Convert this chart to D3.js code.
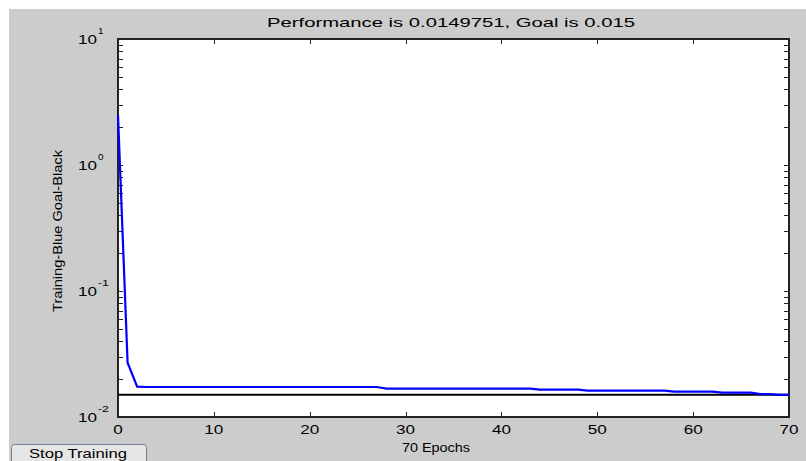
<!DOCTYPE html>
<html>
<head>
<meta charset="utf-8">
<script src="https://cdn.jsdelivr.net/npm/d3@7"></script>
<style>
  html, body { margin: 0; padding: 0; background: #ffffff; }
  svg { display: block; }
  text { font-family: "Liberation Sans", Arial, Helvetica, sans-serif; fill: #000; }
</style>
</head>
<body>
<svg id="chart" width="806" height="461"></svg>
<script>
// Training performance per epoch (mean squared error), epochs 0..70
const trainingPerf = [
  2.5, 0.027, 0.0174,
  // epochs 3–27
  0.0173, 0.0173, 0.0173, 0.0173, 0.0173, 0.0173, 0.0173, 0.0173, 0.0173, 0.0173,
  0.0173, 0.0173, 0.0173, 0.0173, 0.0173, 0.0173, 0.0173, 0.0173, 0.0173, 0.0173,
  0.0173, 0.0173, 0.0173, 0.0173, 0.0173,
  // epochs 28–43
  0.0168, 0.0168, 0.0168, 0.0168, 0.0168, 0.0168, 0.0168, 0.0168,
  0.0168, 0.0168, 0.0168, 0.0168, 0.0168, 0.0168, 0.0168, 0.0168,
  // epochs 44–48
  0.0165, 0.0165, 0.0165, 0.0165, 0.0165,
  // epochs 49–57
  0.0162, 0.0162, 0.0162, 0.0162, 0.0162, 0.0162, 0.0162, 0.0162, 0.0162,
  // epochs 58–62
  0.0159, 0.0159, 0.0159, 0.0159, 0.0159,
  // epochs 63–66
  0.0156, 0.0156, 0.0156, 0.0156,
  // epochs 67–69
  0.0152, 0.0152, 0.0150,
  // epoch 70
  0.0149751
];
const goal = 0.015;
const finalPerf = 0.0149751;
const epochCount = 70;

const xTicks = [0, 10, 20, 30, 40, 50, 60, 70];
const yDecades = [0.01, 0.1, 1, 10];
const yDecadeExponents = ["-2", "-1", "0", "1"];

const titleText = "Performance is " + finalPerf + ", Goal is " + goal;
const xLabelText = epochCount + " Epochs";
const yLabelText = "Training-Blue  Goal-Black";
const buttonText = "Stop Training";

const svg = d3.select("#chart");

// figure background
svg.append("rect").attr("x", 9).attr("y", 9).attr("width", 797).attr("height", 452)
  .attr("fill", "#cccccc");

const plot = { left: 118, right: 789, top: 39, bottom: 417 };

const x = d3.scaleLinear().domain([0, epochCount]).range([plot.left, plot.right]);
const y = d3.scaleLog().domain([0.01, 10]).range([plot.bottom, plot.top]);

// axes area
svg.append("rect")
  .attr("x", plot.left).attr("y", plot.top)
  .attr("width", plot.right - plot.left).attr("height", plot.bottom - plot.top)
  .attr("fill", "#ffffff");

// minor + major log ticks
const logTicks = [];
yDecades.slice(0, 3).forEach(d => {
  for (let k = 1; k <= 9; k++) logTicks.push(d * k);
});
logTicks.push(10);

const tickLen = 5;
const axisColor = "#222";

function styleAxis(g) {
  g.select(".domain").remove();
  g.selectAll(".tick line").attr("stroke", axisColor).attr("shape-rendering", "crispEdges");
  g.selectAll(".tick text").remove();
}

// bottom and top ticks (pointing inward)
svg.append("g").attr("transform", `translate(0,${plot.bottom})`)
  .call(d3.axisBottom(x).tickValues(xTicks).tickSize(-tickLen)).call(styleAxis);
svg.append("g").attr("transform", `translate(0,${plot.top})`)
  .call(d3.axisTop(x).tickValues(xTicks).tickSize(-tickLen)).call(styleAxis);
// left and right ticks (pointing inward)
svg.append("g").attr("transform", `translate(${plot.left},0)`)
  .call(d3.axisLeft(y).tickValues(logTicks).tickSize(-tickLen)).call(styleAxis);
svg.append("g").attr("transform", `translate(${plot.right},0)`)
  .call(d3.axisRight(y).tickValues(logTicks).tickSize(-tickLen)).call(styleAxis);

// box
svg.append("rect")
  .attr("x", plot.left).attr("y", plot.top)
  .attr("width", plot.right - plot.left).attr("height", plot.bottom - plot.top)
  .attr("fill", "none").attr("stroke", axisColor).attr("stroke-width", 1.2)
  .attr("shape-rendering", "crispEdges");

// x tick labels
svg.append("g").selectAll("text").data(xTicks).join("text")
  .attr("x", d => x(d)).attr("y", 434)
  .attr("text-anchor", "middle")
  .attr("font-size", 13)
  .attr("textLength", d => String(d).length * 9.5)
  .attr("lengthAdjust", "spacingAndGlyphs")
  .text(d => d);

// y tick labels: 10 with superscript exponent
const yl = svg.append("g").selectAll("g").data(yDecades).join("g");
yl.append("text")
  .attr("x", 78).attr("y", d => y(d) + 5)
  .attr("font-size", 13)
  .attr("textLength", 19)
  .attr("lengthAdjust", "spacingAndGlyphs")
  .text("10");
yl.append("text")
  .attr("x", 98).attr("y", d => y(d) - 5)
  .attr("font-size", 9)
  .attr("textLength", (d, i) => yDecadeExponents[i].length * 5.5)
  .attr("lengthAdjust", "spacingAndGlyphs")
  .text((d, i) => yDecadeExponents[i]);

// goal line
svg.append("line")
  .attr("x1", x(0)).attr("x2", x(epochCount))
  .attr("y1", y(goal)).attr("y2", y(goal))
  .attr("stroke", "#000").attr("stroke-width", 2);

// training curve
const line = d3.line().x((d, i) => x(i)).y(d => y(d));
svg.append("path")
  .datum(trainingPerf)
  .attr("d", line)
  .attr("fill", "none")
  .attr("stroke", "#0000ff")
  .attr("stroke-width", 2.2)
  .attr("stroke-linejoin", "miter");

// title
svg.append("text")
  .attr("x", 451).attr("y", 27)
  .attr("text-anchor", "middle")
  .attr("font-size", 13)
  .attr("textLength", 368)
  .attr("lengthAdjust", "spacingAndGlyphs")
  .text(titleText);

// x label
svg.append("text")
  .attr("x", 436).attr("y", 452)
  .attr("text-anchor", "middle")
  .attr("font-size", 13)
  .attr("textLength", 68)
  .attr("lengthAdjust", "spacingAndGlyphs")
  .text(xLabelText);

// y label
svg.append("text")
  .attr("transform", "translate(62,231) rotate(-90)")
  .attr("text-anchor", "middle")
  .attr("font-size", 13)
  .attr("textLength", 162)
  .attr("lengthAdjust", "spacingAndGlyphs")
  .text(yLabelText);

// stop button
svg.append("rect")
  .attr("x", 11.5).attr("y", 444.5).attr("width", 135).attr("height", 22).attr("rx", 3)
  .attr("fill", "#e6e6e6").attr("stroke", "#6f7f95").attr("stroke-width", 1);
svg.append("text")
  .attr("x", 78).attr("y", 458)
  .attr("text-anchor", "middle")
  .attr("font-size", 12)
  .attr("textLength", 98)
  .attr("lengthAdjust", "spacingAndGlyphs")
  .text(buttonText);
</script>
</body>
</html>
